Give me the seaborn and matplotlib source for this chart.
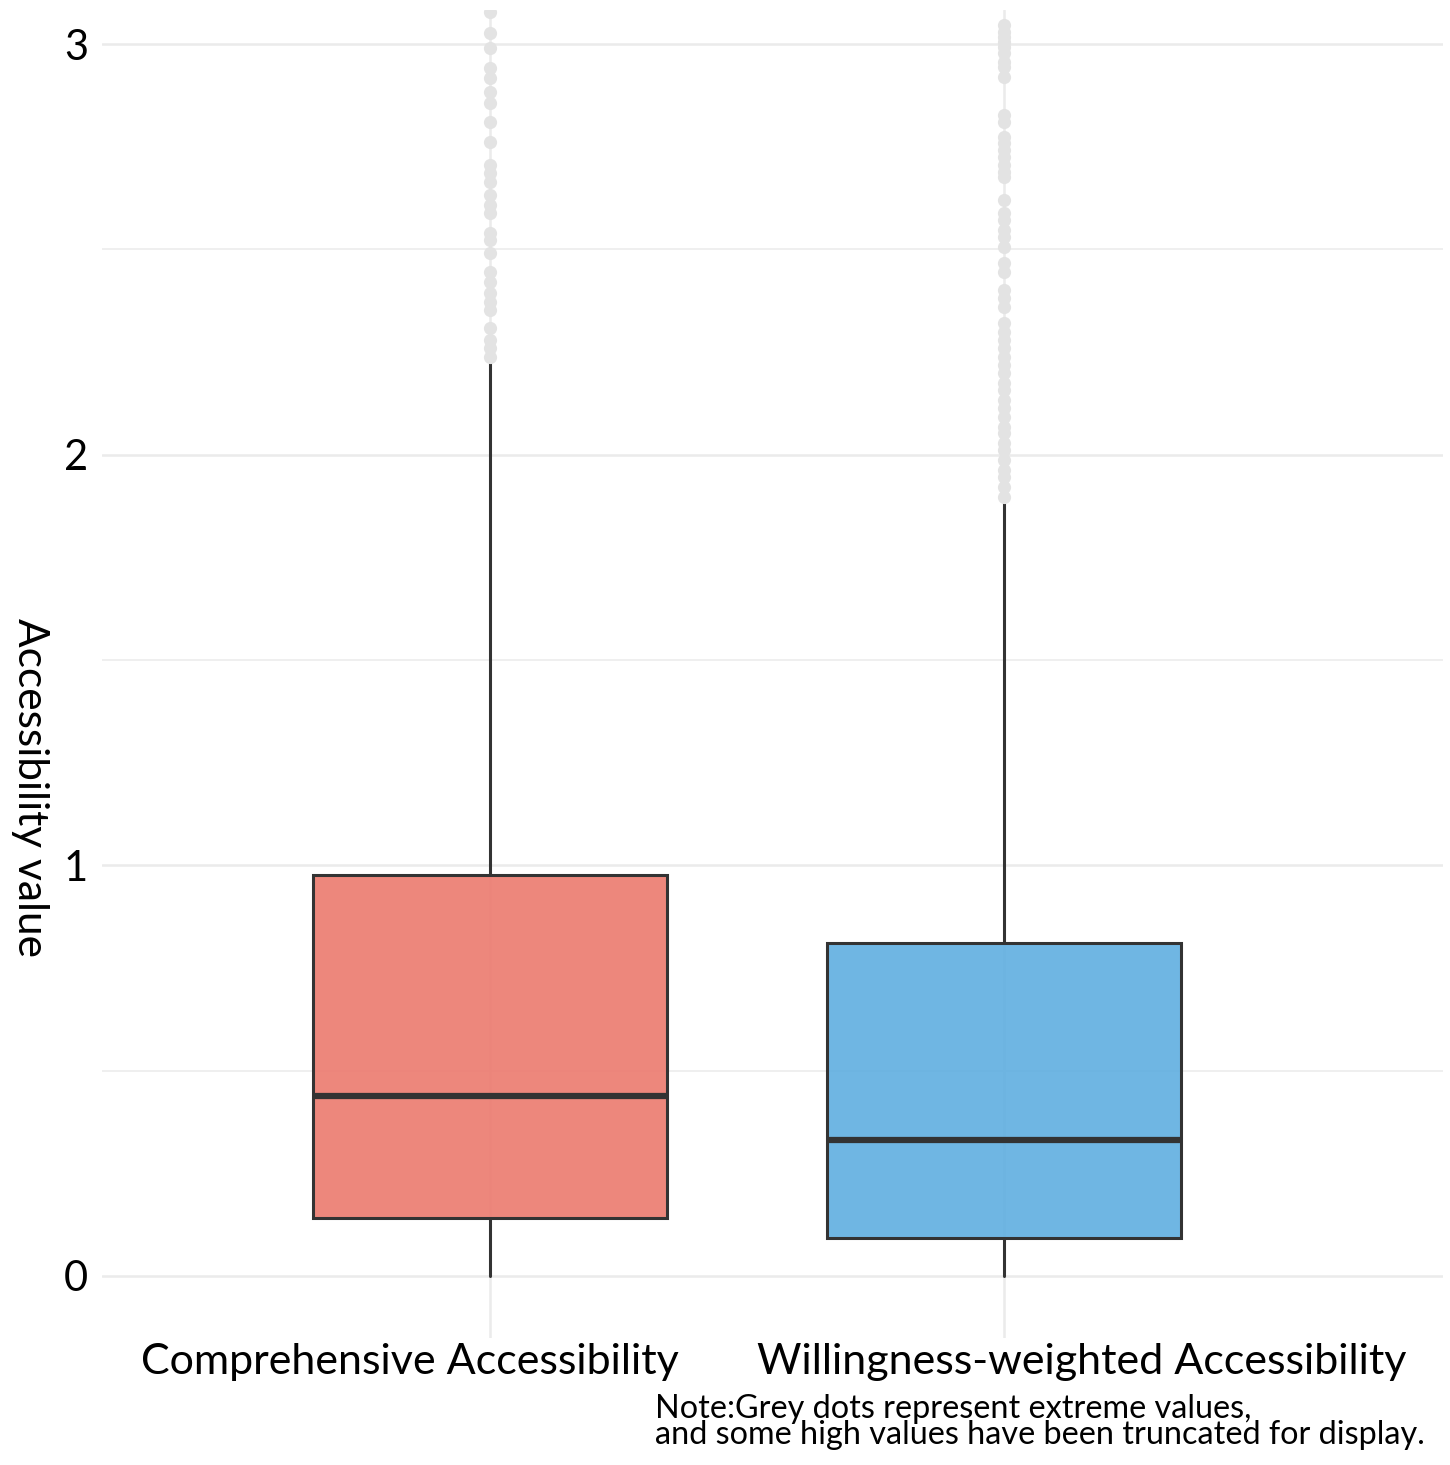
import matplotlib
matplotlib.use("Agg")
import matplotlib.pyplot as plt
import matplotlib.transforms as mtransforms
import seaborn as sns
import pandas as pd

# box summaries
categories = ["Comprehensive Accessibility", "Willingness-weighted Accessibility"]
q1 = [0.141, 0.092]
median = [0.438, 0.332]
q3 = [0.976, 0.812]
whisker_low = [0.0, 0.0]
whisker_high = [2.226, 1.890]

# extreme values (grey dots), truncated at the top of the panel
fliers_comp = [3.078, 3.027, 2.990, 2.942, 2.917, 2.883, 2.856, 2.810, 2.762,
               2.705, 2.686, 2.664, 2.632, 2.608, 2.588, 2.540, 2.523, 2.491,
               2.445, 2.420, 2.394, 2.372, 2.352, 2.308, 2.279, 2.260, 2.238]
fliers_will = [3.046, 3.029, 3.017, 3.005, 2.993, 2.978, 2.956, 2.944, 2.920,
               2.827, 2.810, 2.774, 2.759, 2.742, 2.725, 2.706, 2.688, 2.676,
               2.620, 2.589, 2.572, 2.547, 2.530, 2.506, 2.467, 2.445, 2.401,
               2.382, 2.360, 2.321, 2.299, 2.279, 2.260, 2.238, 2.218, 2.199,
               2.174, 2.157, 2.133, 2.114, 2.092, 2.067, 2.053, 2.028, 2.011,
               1.987, 1.963, 1.946, 1.921, 1.897]

fills = ["#EC7A6E", "#5FAEE0"]

sns.set_theme(style="white")
plt.rcParams["font.family"] = ["Lato", "DejaVu Sans"]

fig = plt.figure(figsize=(14.5, 14.65), dpi=100)
ax = fig.add_axes([102 / 1450, 1 - 1338 / 1465, (1443 - 102) / 1450, (1338 - 10) / 1465])

flier_df = pd.DataFrame({
    "group": [categories[0]] * len(fliers_comp) + [categories[1]] * len(fliers_will),
    "value": fliers_comp + fliers_will,
})
sns.stripplot(data=flier_df, x="group", y="value", order=categories,
              jitter=False, color="#E3E3E3", size=9.5, linewidth=0, ax=ax, zorder=3)

stats = []
for i, name in enumerate(categories):
    stats.append(dict(label=name, q1=q1[i], med=median[i], q3=q3[i],
                      whislo=whisker_low[i], whishi=whisker_high[i], fliers=[]))

dark = "#333333"
bp = ax.bxp(stats, positions=[0, 1], widths=0.69, patch_artist=True,
            showfliers=False, showcaps=False, manage_ticks=False,
            boxprops=dict(edgecolor=dark, linewidth=2.2),
            whiskerprops=dict(color=dark, linewidth=2.2),
            medianprops=dict(color=dark, linewidth=4.5, solid_capstyle="butt"))
for patch, c in zip(bp["boxes"], fills):
    patch.set_facecolor(matplotlib.colors.to_rgba(c, 0.9))

# grid like ggplot theme_minimal
ax.set_axisbelow(True)
ax.set_yticks([0, 1, 2, 3])
ax.set_yticks([0.5, 1.5, 2.5], minor=True)
ax.set_xticks([0, 1], ["", ""])
ax.grid(which="major", axis="both", color="#EBEBEB", lw=1.8)
ax.grid(which="minor", axis="y", color="#EBEBEB", lw=1.1)

ax.set_xlim(-0.755, 1.854)
ax.set_ylim(-0.151, 3.083)
ax.set_xlabel("")
ax.set_ylabel("")
for s in ax.spines.values():
    s.set_visible(False)
ax.tick_params(axis="both", which="both", length=0)
ax.tick_params(axis="y", labelsize=30, pad=10, labelcolor="black")

# category labels sit off the box centres in the reference
trans = mtransforms.blended_transform_factory(ax.transData, fig.transFigure)
label_x = [-0.156, 1.152]
for x, name in zip(label_x, categories):
    ax.text(x, 1 - 1362 / 1465, name, transform=trans, ha="center", va="center",
            fontsize=31, color="black")

fig.text(30 / 1450, 1 - 788 / 1465, "Accessibility value", rotation=270,
         ha="center", va="center", fontsize=30.5, color="black")

fig.text(655 / 1450, 1 - 1422 / 1465,
         "Note:Grey dots represent extreme values,\nand some high values have been truncated for display.",
         ha="left", va="center", fontsize=23.3, linespacing=0.82, color="black")

fig.savefig("out.png", dpi=100)
